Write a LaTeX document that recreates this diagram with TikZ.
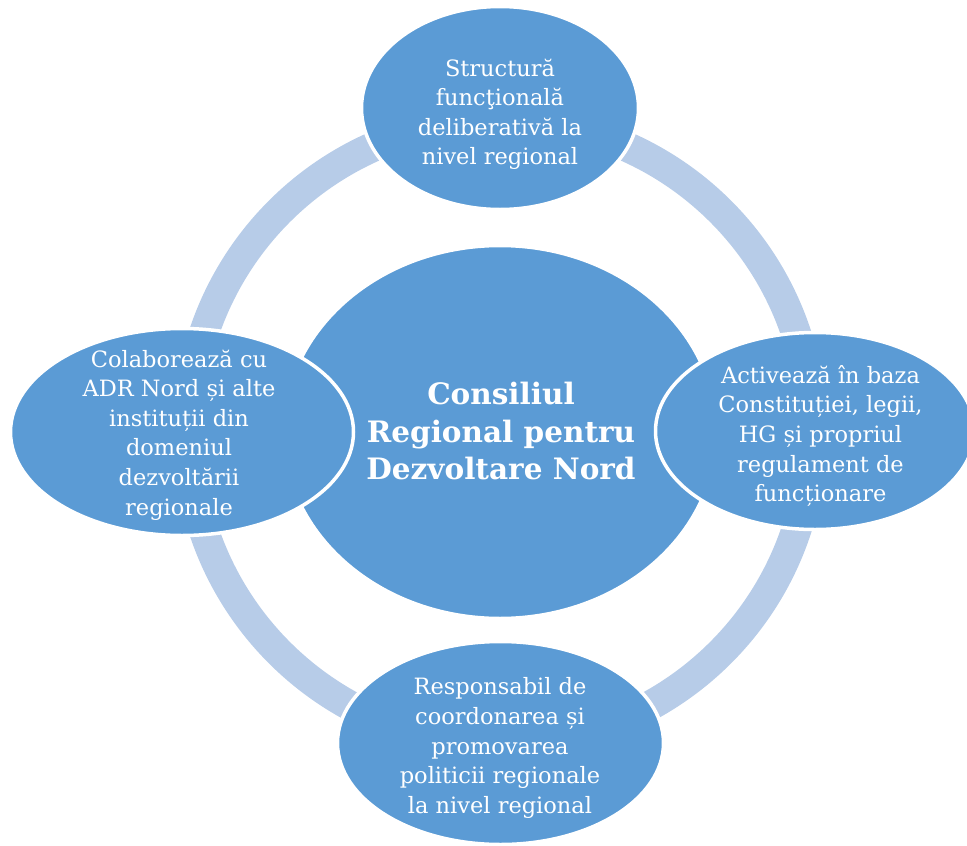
\documentclass[tikz,border=0pt]{standalone}
\usepackage{fontspec}
\setmainfont{DejaVu Serif}
\usetikzlibrary{shapes.geometric}
\definecolor{blobblue}{RGB}{91,155,213}
\definecolor{ringblue}{RGB}{183,204,232}
\tikzset{
  blob/.style={ellipse, fill=blobblue, draw=white, line width=3.5pt, inner sep=0pt},
  ringline/.style={draw=ringblue, line width=30pt},
  txt/.style={text=white, align=center, inner sep=0pt, font=\fontsize{22.5}{29.6}\selectfont},
  titletxt/.style={text=white, align=center, inner sep=0pt, font=\fontsize{29.5}{37.5}\selectfont\bfseries}
}
\begin{document}
\begin{tikzpicture}[x=1pt,y=-1pt]
\useasboundingbox (0,0) rectangle (967,846);
\coordinate (ctr) at (500,432);
\draw[ringline] (ctr) circle[radius=312];
\node[blob, minimum width=433pt, minimum height=373pt] (core) at (ctr) {};
\node[blob, minimum width=277pt, minimum height=203pt] (top) at (500,108) {};
\node[blob, minimum width=319pt, minimum height=197pt] (right) at (815,431) {};
\node[blob, minimum width=343pt, minimum height=207pt] (left) at (182,432) {};
\node[blob, minimum width=326pt, minimum height=203pt] (bottom) at (500.5,743) {};
\node[titletxt] (coretext) at (501,431) {Consiliul\\Regional pentru\\Dezvoltare Nord};
\node[txt] (toptext) at (500,114.4) {Structură\\funcţională\\deliberativă la\\nivel regional};
\node[txt] (righttext) at (820.5,436) {Activează în baza\\Constituției, legii,\\HG și propriul\\regulament de\\funcționare};
\node[txt] (lefttext) at (179,435) {Colaborează cu\\ADR Nord și alte\\instituții din\\domeniul\\dezvoltării\\regionale};
\node[txt] (bottomtext) at (500,748) {Responsabil de\\coordonarea și\\promovarea\\politicii regionale\\la nivel regional};
\end{tikzpicture}
\end{document}
